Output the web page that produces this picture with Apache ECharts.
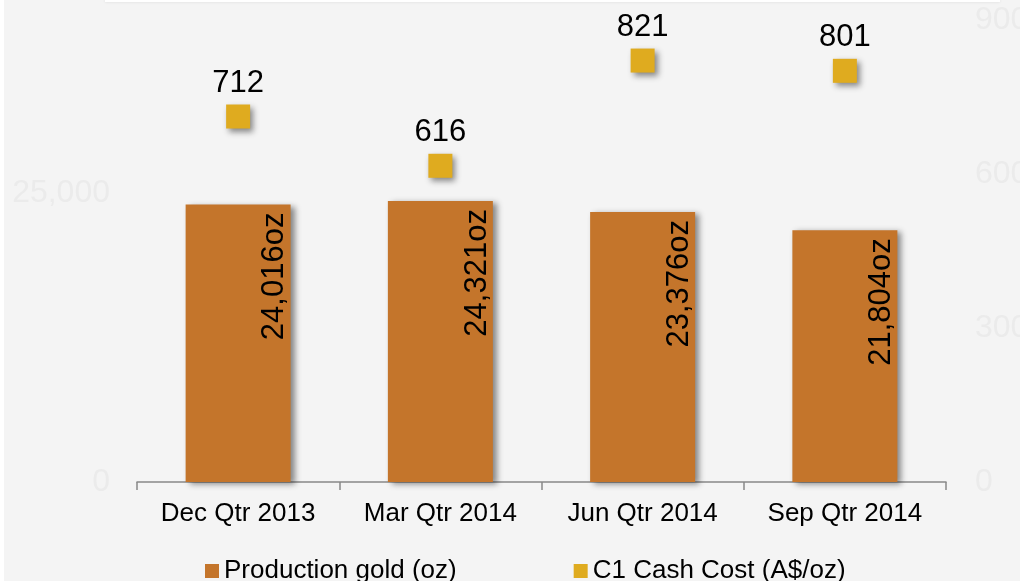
<!DOCTYPE html>
<html>
<head>
<meta charset="utf-8">
<script src="https://cdn.jsdelivr.net/npm/echarts@6/dist/echarts.min.js"></script>
<style>
html,body{margin:0;padding:0;background:#f4f4f4;}
#main{width:1020px;height:581px;}
</style>
</head>
<body>
<div id="main"></div>
<script>
//分类
var quarters = ['Dec Qtr 2013', 'Mar Qtr 2014', 'Jun Qtr 2014', 'Sep Qtr 2014'];
//产量 oz
var goldOz = [24016, 24321, 23376, 21804];
//C1 成本
var cashCost = [712, 616, 821, 801];
var leftTicks = [0, 25000];
var rightTicks = [0, 300, 600, 900];

var chart = echarts.init(document.getElementById('main'));
var fnt = 'Liberation Sans, Arial, sans-serif';
var option = {
	backgroundColor: '#f4f4f4',
	animation: false,
	graphic: [{
		type: 'rect', left: 0, top: 0,
		shape: {width: 4, height: 581},
		style: {fill: '#ffffff'}
	}, {
		type: 'rect', left: 105, top: 0,
		shape: {width: 895, height: 2},
		style: {fill: '#ffffff', shadowColor: 'rgba(0,0,0,0.12)', shadowBlur: 3}
	}],
	grid: {left: 137, right: 74, top: 20, bottom: 99, containLabel: false, outerBoundsMode: 'none'},
	legend: {
		bottom: -8,
		left: 200,
		itemGap: 117,
		itemWidth: 14,
		itemHeight: 14,
		icon: 'rect',
		textStyle: {fontSize: 26, color: '#000', fontFamily: fnt, padding: [2, 0, 0, 0]},
		data: ['Production gold (oz)', 'C1 Cash Cost (A$/oz)']
	},
	xAxis: {
		type: 'category',
		data: quarters,
		axisLine: {lineStyle: {color: '#888', width: 1.5}},
		axisTick: {show: true, interval: 0, length: 8, lineStyle: {color: '#888', width: 1.5}},
		axisLabel: {interval: 0, fontSize: 26, color: '#000', fontFamily: fnt, margin: 19}
	},
	yAxis: [{
		type: 'value',
		min: 0, max: 40000, interval: 25000,
		splitLine: {show: false},
		axisLine: {show: false},
		axisTick: {show: false},
		axisLabel: {
			fontSize: 32, color: '#ebebeb', fontFamily: fnt, margin: 27,
			showMaxLabel: false,
			formatter: function(v){
				return leftTicks.indexOf(v) >= 0 ? v.toLocaleString('en-US') : '';
			}
		}
	}, {
		type: 'value',
		min: 0, max: 900, interval: 300,
		splitLine: {show: false},
		axisLine: {show: false},
		axisTick: {show: false},
		axisLabel: {
			fontSize: 32, color: '#ebebeb', fontFamily: fnt, margin: 29,
			formatter: function(v){
				return rightTicks.indexOf(v) >= 0 ? String(v) : '';
			}
		}
	}],
	series: [{
		name: 'Production gold (oz)',
		type: 'bar',
		yAxisIndex: 0,
		barWidth: 105,
		data: goldOz,
		itemStyle: {
			color: '#c4752b',
			shadowColor: 'rgba(0,0,0,0.45)',
			shadowBlur: 6,
			shadowOffsetX: 4,
			shadowOffsetY: 2
		},
		label: {
			show: true,
			position: ['85%', 8],
			rotate: 90,
			align: 'right',
			verticalAlign: 'middle',
			fontSize: 31,
			color: '#000',
			fontFamily: fnt,
			formatter: function(p){
				return p.value.toLocaleString('en-US') + 'oz';
			}
		}
	}, {
		name: 'C1 Cash Cost (A$/oz)',
		type: 'scatter',
		yAxisIndex: 1,
		symbol: 'rect',
		symbolSize: 24,
		data: cashCost,
		itemStyle: {
			color: '#dfab1f',
			opacity: 1,
			shadowColor: 'rgba(0,0,0,0.45)',
			shadowBlur: 6,
			shadowOffsetX: 3,
			shadowOffsetY: 3
		},
		label: {
			show: true,
			position: 'top',
			distance: 6,
			fontSize: 31,
			color: '#000',
			fontFamily: fnt
		}
	}]
};
chart.setOption(option);
</script>
</body>
</html>
